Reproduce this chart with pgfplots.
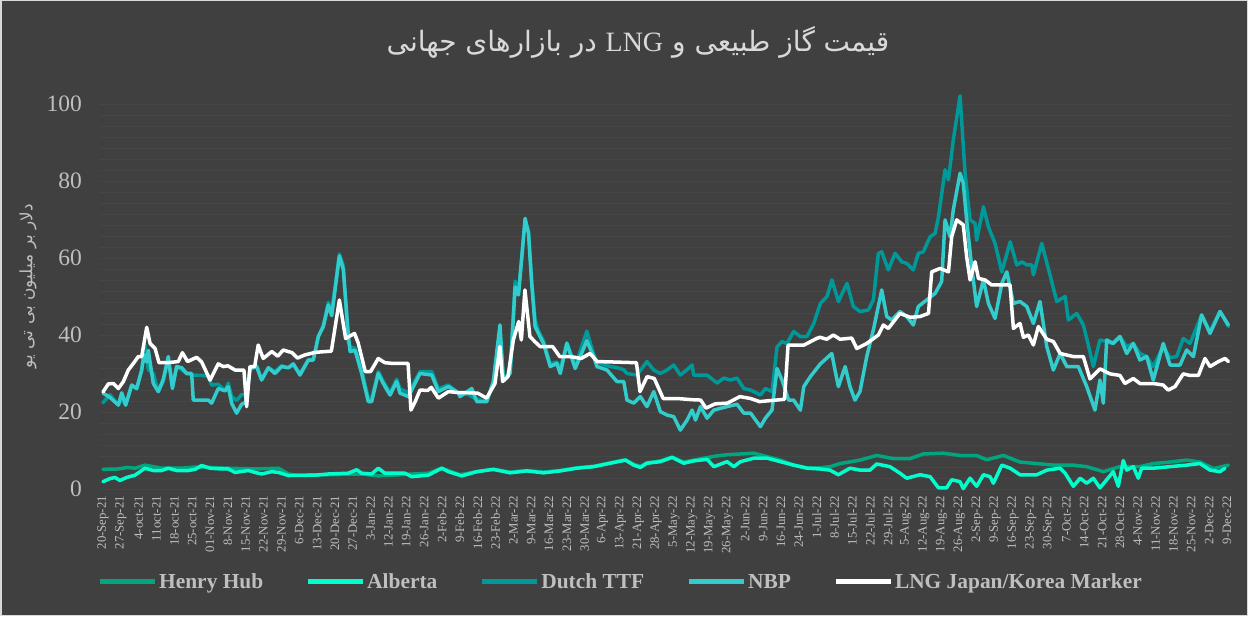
\documentclass[border=0pt]{standalone}
\usepackage{fontspec}
\setmainfont{Liberation Serif}
\newfontfamily\arabicfont[Script=Arabic]{DejaVu Sans}
\TeXXeTstate=1
\usepackage{pgfplots}
\pgfplotsset{compat=1.18}
\definecolor{bg}{HTML}{404040}
\definecolor{bordc}{HTML}{D9D9D9}
\definecolor{hh}{HTML}{00A67E}
\definecolor{alb}{HTML}{00FFCC}
\definecolor{ttf}{HTML}{009999}
\definecolor{nbp}{HTML}{33CCCC}
\definecolor{txt}{HTML}{BFBFBF}
\definecolor{ttl}{HTML}{D9D9D9}
\definecolor{grd}{HTML}{464646}
\begin{document}
\begin{tikzpicture}
\useasboundingbox (0,0) rectangle (1248pt,616pt);
\fill[bg] (0,0) rectangle (1248pt,616pt);
\draw[bordc, line width=1.5pt] (0.75pt,0.75pt) rectangle (1247.25pt,615.25pt);
\begin{axis}[
  at={(100pt,123.15pt)}, anchor=south west,
  width=1130pt, height=404.25pt, scale only axis,
  xmin=-0.168, xmax=63.17, ymin=-1, ymax=104,
  axis line style={draw=none}, tick style={draw=none},
  ytick={0,20,...,100},
  minor y tick num=6,
  ymajorgrids, yminorgrids,
  major grid style={grd, line width=0.7pt},
  minor grid style={grd, line width=0.7pt},
  /pgf/number format/assume math mode=true,
  yticklabel style={text=txt, font=\fontsize{23.5}{26}\selectfont, inner sep=0pt, xshift=-18pt},
  xtick={0,...,63},
  xticklabels={20-Sep-21,27-Sep-21,4-oct-21,11oct-21,18-oct-21,25-oct-21,01-Nov-21,8-Nov-21,15-Nov-21,22-Nov-21,29-Nov-21,6-Dec-21,13-Dec-21,20-Dec-21,27-Dec-21,3-Jan-22,12-Jan-22,19-Jan-22,26-Jan-22,2-Feb-22,9-Feb-22,16-Feb-22,23-Feb-22,2-Mar-22,9-Mar-22,16-Mar-22,23-Mar-22,30-Mar-22,6-Apr-22,13-Apr-22,21-Apr-22,28-Apr-22,5-May-22,12-May-22,19-May-22,26-May-22,2-Jun-22,9-Jun-22,16-Jun-22,24-Jun-22,1-Jul-22,8-Jul-22,15-Jul-22,22-Jul-22,29-Jul-22,5-Aug-22,12-Aug-22,19-Aug-22,26-Aug-22,2-Sep-22,9-Sep-22,16-Sep-22,23-Sep-22,30-Sep-22,7-Oct-22,14-Oct-22,21-Oct-22,28-Oct-22,4-Nov-22,11-Nov-22,18-Nov-22,25-Nov-22,2-Dec-22,9-Dec-22},
  xticklabel style={rotate=90, anchor=east, inner sep=3pt, text=txt, font=\fontsize{12.8}{14}\selectfont},
  legend columns=5,
  legend cell align=left,
  legend style={at={(-0.00265,-0.2205)}, anchor=west, draw=none, fill=none, text=txt,
    font=\bfseries\fontsize{21.4}{25}\selectfont, inner sep=0pt,
    nodes={inner sep=2pt},
    /tikz/every even column/.append style={column sep=40pt}},
  legend image code/.code={\draw[#1, line width=5pt, line cap=butt] (0pt,0pt) -- (55pt,0pt);},
  every axis plot/.append style={line width=3.5pt, line join=round, line cap=round},
]
\addplot[hh] coordinates {(0,5.1)(0.86,5.2)(1.33,5.6)(1.8,5.4)(2.35,6.2)(3.29,5.4)(4.41,5.4)(5.16,5.7)(5.53,5.7)(7.02,5.4)(8.52,5.2)(9.83,5.4)(10.39,3.9)(10.76,3.6)(12.63,3.7)(14.5,3.9)(15.43,3.4)(18.24,4.1)(18.99,5.4)(20.01,3.7)(20.95,4.5)(21.88,5.1)(22.82,4.4)(23.76,4.8)(24.69,4.4)(25.63,4.8)(26.56,5.5)(27.5,5.9)(28.44,6.8)(29.28,7.6)(29.75,6.4)(30.12,5.9)(30.49,6.8)(31.24,7.3)(31.9,8.3)(32.55,7.0)(33.11,7.5)(33.67,8.0)(34.42,8.6)(34.98,8.9)(36.48,9.3)(37.23,8.4)(37.97,7.5)(38.71,6.2)(39.46,5.5)(40.21,5.5)(40.77,5.8)(41.31,6.6)(42.43,7.5)(43.37,8.7)(44.3,7.9)(45.24,7.9)(45.98,9.1)(47.1,9.3)(48.04,8.7)(48.97,8.7)(49.53,7.6)(50.47,8.7)(51.4,7.0)(52.34,6.6)(53.27,6.2)(54.39,6.2)(55.14,5.8)(56.07,4.5)(57.0,5.8)(58.12,5.8)(58.87,6.6)(59.81,7.0)(60.74,7.5)(61.49,7.0)(62.24,5.3)(63.08,6.2)};
\addlegendentry{Henry Hub}
\addplot[alb] coordinates {(0,1.9)(0.39,2.7)(0.67,3.0)(0.95,2.2)(1.33,3.0)(1.8,3.6)(2.08,4.5)(2.35,5.4)(2.82,4.8)(3.29,4.8)(3.66,5.4)(4.13,4.8)(4.78,4.8)(5.16,5.1)(5.53,6.1)(6.0,5.4)(6.65,5.2)(7.02,5.2)(7.4,4.3)(8.15,4.8)(8.52,4.3)(8.9,3.9)(9.46,4.5)(9.83,4.3)(10.39,3.5)(11.88,3.6)(12.63,3.9)(13.75,4.1)(14.22,5.0)(14.5,4.1)(15.06,3.9)(15.43,5.4)(15.8,4.1)(16.37,4.1)(16.93,4.1)(17.3,3.2)(18.24,3.6)(18.99,5.4)(19.36,4.5)(20.11,3.4)(20.95,4.5)(21.88,5.1)(22.82,4.2)(23.76,4.7)(24.69,4.2)(25.63,4.7)(26.56,5.4)(27.5,5.8)(28.44,6.7)(29.28,7.5)(29.75,6.2)(30.12,5.6)(30.49,6.7)(31.24,7.1)(31.9,8.2)(32.55,6.7)(33.11,7.3)(33.86,7.7)(34.24,5.8)(34.98,7.1)(35.36,5.8)(35.73,7.1)(36.48,8.0)(37.23,8.0)(37.97,7.1)(38.71,6.2)(39.46,5.4)(40.19,5.2)(40.75,4.9)(41.22,3.7)(41.87,5.4)(42.43,4.9)(42.99,4.9)(43.37,6.5)(44.11,5.8)(44.67,4.1)(45.05,2.8)(45.8,3.7)(46.36,3.2)(46.83,0.3)(47.29,0.3)(47.57,2.4)(48.04,1.9)(48.22,0.1)(48.6,2.8)(48.97,0.7)(49.35,3.7)(49.72,3.2)(49.91,1.5)(50.38,6.2)(50.85,5.4)(51.4,3.7)(52.34,3.7)(52.9,4.9)(53.65,5.4)(53.93,4.1)(54.39,0.7)(54.77,2.8)(55.14,1.5)(55.51,2.8)(55.88,0.3)(56.26,2.4)(56.63,4.5)(56.91,0.7)(57.19,7.4)(57.38,4.9)(57.75,5.8)(58.03,2.8)(58.22,5.4)(58.87,5.4)(59.81,5.8)(60.74,6.2)(61.49,6.6)(62.05,4.9)(62.61,4.5)(62.89,5.4)};
\addlegendentry{Alberta}
\addplot[ttf] coordinates {(0,22.4)(0.39,24.5)(0.86,21.8)(1.05,23.5)(1.27,21.8)(1.61,27.0)(1.89,26.0)(2.17,30.9)(2.35,37.4)(2.54,31.0)(2.82,30.0)(3.1,25.3)(3.38,28.0)(3.66,33.5)(3.89,27.0)(4.13,31.8)(4.41,31.0)(4.69,30.0)(4.97,29.6)(5.5,29.5)(5.9,29.3)(6.09,27.0)(6.46,27.2)(6.84,25.5)(7.02,27.5)(7.21,24.0)(7.49,23.0)(7.77,24.5)(8.0,24.5)(8.24,31.0)(8.61,32.0)(8.89,28.5)(9.27,31.5)(9.64,30.5)(10.01,32.0)(10.39,31.5)(10.67,32.2)(11.04,30.0)(11.51,33.5)(11.79,33.8)(12.07,39.6)(12.35,42.5)(12.63,48.5)(12.82,46.0)(13.25,61.0)(13.47,58.0)(13.75,38.0)(13.85,37.0)(14.13,36.5)(14.5,31.0)(14.87,23.5)(15.06,23.5)(15.43,30.5)(15.71,28.0)(16.09,25.0)(16.46,28.5)(16.65,26.0)(17.12,25.0)(17.77,30.5)(18.43,30.5)(18.8,26.0)(19.36,27.0)(19.92,25.0)(20.5,24.5)(20.85,23.5)(21.51,22.7)(21.88,27.9)(22.25,41.5)(22.44,28.3)(22.82,30.5)(23.1,54.0)(23.29,51.0)(23.66,69.5)(23.85,67.0)(24.03,54.0)(24.22,44.0)(24.41,41.0)(24.69,38.5)(25.07,32.5)(25.44,33.0)(25.63,31.0)(26.0,38.0)(26.47,32.0)(27.12,41.0)(27.5,35.0)(27.69,33.0)(28.25,32.0)(28.81,31.5)(29.19,31.0)(29.37,30.0)(29.93,29.6)(30.49,33.1)(30.87,30.9)(31.24,30.0)(31.62,30.9)(31.99,32.2)(32.36,29.6)(32.74,31.0)(33.02,32.2)(33.11,29.6)(33.49,29.6)(33.86,29.6)(34.42,27.5)(34.79,28.8)(35.17,28.3)(35.54,28.8)(35.92,26.1)(36.29,25.7)(36.48,25.3)(36.85,24.4)(37.13,26.1)(37.5,25.3)(37.78,36.9)(38.06,38.3)(38.34,37.8)(38.71,40.9)(39.09,39.6)(39.46,39.6)(39.84,43.0)(40.21,48.2)(40.58,50.0)(40.86,54.3)(41.22,48.7)(41.7,53.4)(42.06,47.4)(42.43,46.1)(42.9,46.5)(43.18,49.1)(43.46,61.2)(43.65,61.6)(44.02,56.9)(44.4,61.2)(44.77,59.0)(45.05,58.6)(45.42,56.9)(45.7,61.2)(45.98,61.6)(46.36,65.5)(46.64,66.4)(46.83,70.7)(47.2,82.9)(47.39,80.3)(47.66,90.6)(48.04,102.1)(48.32,82.0)(48.6,69.9)(48.88,69.0)(48.97,64.6)(49.35,73.3)(49.63,68.1)(50.0,63.8)(50.38,56.4)(50.85,64.2)(51.22,58.2)(51.5,59.0)(51.78,58.2)(52.06,58.2)(52.15,55.6)(52.62,63.8)(53.08,55.6)(53.46,48.7)(53.93,50.0)(54.11,43.9)(54.58,45.6)(54.95,42.6)(55.23,37.4)(55.51,31.8)(55.88,38.7)(56.26,38.3)(56.54,37.8)(57.0,39.6)(57.38,37.0)(57.75,37.8)(58.12,35.2)(58.5,34.4)(58.87,31.8)(59.43,37.0)(59.81,34.1)(60.18,34.4)(60.55,39.1)(60.93,37.8)(61.58,45.2)(62.05,40.9)(62.61,46.1)(63.08,42.2)};
\addlegendentry{Dutch TTF}
\addplot[nbp] coordinates {(0,24.9)(0.39,23.8)(0.86,21.8)(1.05,25.0)(1.27,21.8)(1.61,27.0)(1.89,26.1)(2.17,30.9)(2.3,35.0)(2.45,33.0)(2.54,36.0)(2.82,27.4)(3.1,25.3)(3.38,28.5)(3.66,34.4)(3.89,26.1)(4.13,31.8)(4.41,31.5)(4.69,30.0)(4.97,30.0)(5.06,23.1)(5.9,23.1)(6.09,22.3)(6.46,26.1)(6.84,25.5)(7.02,26.6)(7.21,22.3)(7.49,19.7)(7.77,22.0)(8.0,22.5)(8.24,31.3)(8.61,31.8)(8.89,28.3)(9.27,31.5)(9.64,30.0)(10.01,31.8)(10.39,31.5)(10.67,32.5)(11.04,29.6)(11.51,33.5)(11.79,33.5)(12.07,39.6)(12.35,42.2)(12.63,47.8)(12.82,45.0)(13.25,60.5)(13.47,57.0)(13.75,40.0)(13.85,35.7)(14.13,36.0)(14.5,30.0)(14.87,22.7)(15.06,22.7)(15.43,30.0)(15.71,27.4)(16.09,24.4)(16.46,27.9)(16.65,24.9)(17.12,24.0)(17.77,30.0)(18.43,29.6)(18.8,25.3)(19.36,26.6)(19.92,24.9)(20.01,24.0)(20.67,26.1)(20.95,22.7)(21.51,22.7)(21.88,27.9)(22.25,42.6)(22.44,28.3)(22.82,30.0)(23.1,52.5)(23.29,50.4)(23.66,70.3)(23.85,66.4)(24.03,53.4)(24.22,42.2)(24.41,40.4)(24.69,37.8)(25.07,31.8)(25.44,32.6)(25.63,30.0)(26.0,37.8)(26.47,31.3)(27.12,38.5)(27.5,34.4)(27.69,31.8)(28.25,30.9)(28.81,27.9)(29.19,27.9)(29.37,23.1)(29.75,22.3)(30.12,24.0)(30.49,21.4)(30.87,25.3)(31.24,20.1)(31.62,19.2)(31.99,18.8)(32.36,15.3)(32.74,17.9)(33.02,20.5)(33.21,17.9)(33.49,21.4)(33.86,18.4)(34.24,20.5)(34.98,21.4)(35.54,22.0)(35.92,19.7)(36.3,19.7)(36.85,16.2)(37.13,18.4)(37.5,20.5)(37.78,31.3)(38.06,28.3)(38.43,23.1)(38.71,23.1)(39.09,20.5)(39.28,26.6)(39.65,29.2)(40.21,32.5)(40.57,34.0)(40.85,35.2)(41.03,30.9)(41.22,26.6)(41.6,31.8)(41.87,26.6)(42.15,23.1)(42.43,25.3)(42.81,34.4)(43.18,41.3)(43.65,51.7)(43.93,44.8)(44.21,43.9)(44.67,46.1)(45.05,44.8)(45.42,42.6)(45.7,47.4)(46.17,49.1)(46.64,50.8)(47.01,53.9)(47.2,69.9)(47.48,65.5)(47.66,72.5)(48.04,82.0)(48.22,79.4)(48.41,69.9)(48.69,57.8)(48.97,47.4)(49.35,54.3)(49.63,48.2)(50.0,44.3)(50.38,53.4)(50.66,56.4)(51.03,48.2)(51.4,48.7)(51.78,47.4)(52.15,43.0)(52.52,48.7)(52.9,37.0)(53.27,30.9)(53.65,35.2)(54.02,31.8)(54.67,31.8)(55.14,26.6)(55.6,20.5)(55.88,28.3)(56.07,22.3)(56.26,38.7)(56.63,37.8)(57.0,39.6)(57.38,35.2)(57.75,37.8)(58.12,33.5)(58.5,34.4)(58.87,28.3)(59.43,37.8)(59.81,32.2)(60.37,32.2)(60.74,36.1)(61.12,34.4)(61.58,45.2)(62.05,40.4)(62.61,46.1)(63.08,42.6)};
\addlegendentry{NBP}
\addplot[white] coordinates {(0,25.2)(0.3,27.3)(0.58,27.4)(0.86,26.1)(1.14,27.9)(1.42,30.9)(1.7,32.6)(1.98,34.4)(2.17,34.4)(2.45,42.0)(2.64,37.8)(2.92,36.5)(3.14,32.8)(3.6,32.8)(4.22,33.1)(4.45,35.4)(4.74,33.1)(5.25,34.2)(5.53,33.0)(6.0,28.3)(6.46,32.5)(6.74,31.8)(7.0,32.0)(7.4,30.9)(7.9,30.9)(8.05,21.4)(8.24,31.8)(8.5,31.8)(8.7,37.4)(8.98,33.9)(9.46,35.7)(9.8,34.5)(10.1,36.1)(10.6,35.4)(10.9,34.0)(11.3,34.8)(11.9,35.5)(12.8,35.8)(13.25,49.1)(13.6,39.1)(14.1,40.4)(14.3,38.0)(14.7,30.5)(15.0,30.5)(15.43,33.9)(15.8,32.8)(16.3,32.6)(17.1,32.6)(17.26,20.5)(17.5,22.7)(17.77,25.7)(18.2,25.6)(18.4,26.4)(18.8,23.6)(19.36,25.3)(20.0,25.0)(20.5,25.0)(21.0,24.9)(21.5,23.6)(21.97,27.4)(22.25,37.0)(22.4,27.9)(22.7,29.2)(23.0,38.7)(23.3,43.5)(23.45,38.7)(23.65,51.7)(23.93,39.6)(24.2,38.3)(24.5,37.0)(25.2,37.0)(25.6,34.4)(26.2,34.4)(26.8,33.9)(27.3,35.2)(27.7,33.1)(28.5,33.0)(29.9,32.8)(30.1,25.3)(30.5,29.2)(30.9,28.7)(31.4,23.5)(32.2,23.5)(33.0,23.2)(33.5,23.1)(33.8,21.0)(34.3,22.1)(35.0,22.3)(35.7,24.0)(36.3,23.5)(36.8,22.7)(38.2,23.3)(38.4,37.4)(39.3,37.4)(40.0,39.1)(40.19,39.4)(40.57,38.9)(40.94,40.0)(41.31,38.9)(41.97,39.2)(42.25,36.5)(42.81,37.8)(43.46,40.0)(43.74,42.6)(44.02,41.7)(44.67,45.6)(45.24,44.6)(45.8,44.8)(46.27,45.6)(46.45,56.4)(46.92,57.3)(47.39,56.4)(47.57,65.5)(47.85,69.9)(48.22,68.6)(48.41,60.3)(48.6,54.3)(48.88,59.0)(49.07,54.7)(49.44,54.3)(49.81,53.0)(50.19,53.0)(50.84,53.0)(51.03,41.7)(51.4,43.0)(51.59,39.4)(51.87,40.0)(52.15,37.4)(52.43,42.2)(52.9,38.9)(53.27,38.3)(53.65,35.2)(54.39,34.4)(54.95,34.4)(55.32,28.6)(55.88,31.2)(56.44,29.9)(57.0,29.5)(57.28,27.4)(57.75,28.7)(58.12,27.4)(58.87,27.4)(59.43,27.0)(59.71,25.7)(60.09,26.6)(60.55,29.9)(60.93,29.5)(61.4,29.5)(61.77,33.9)(62.05,31.8)(62.52,33.1)(62.89,33.9)(63.08,33.1)};
\addlegendentry{LNG Japan/Korea Marker}
\end{axis}
\node[text=ttl, font=\arabicfont\fontsize{28}{32}\selectfont] at (638pt,574pt) {\beginR قیمت گاز طبیعی و \beginL{\rmfamily LNG}\endL{} در بازارهای جهانی\endR};
\node[rotate=90, text=txt, font=\arabicfont\fontsize{17}{19}\selectfont] at (28pt,330pt) {\beginR دلار بر میلیون بی تی یو\endR};
\end{tikzpicture}
\end{document}
